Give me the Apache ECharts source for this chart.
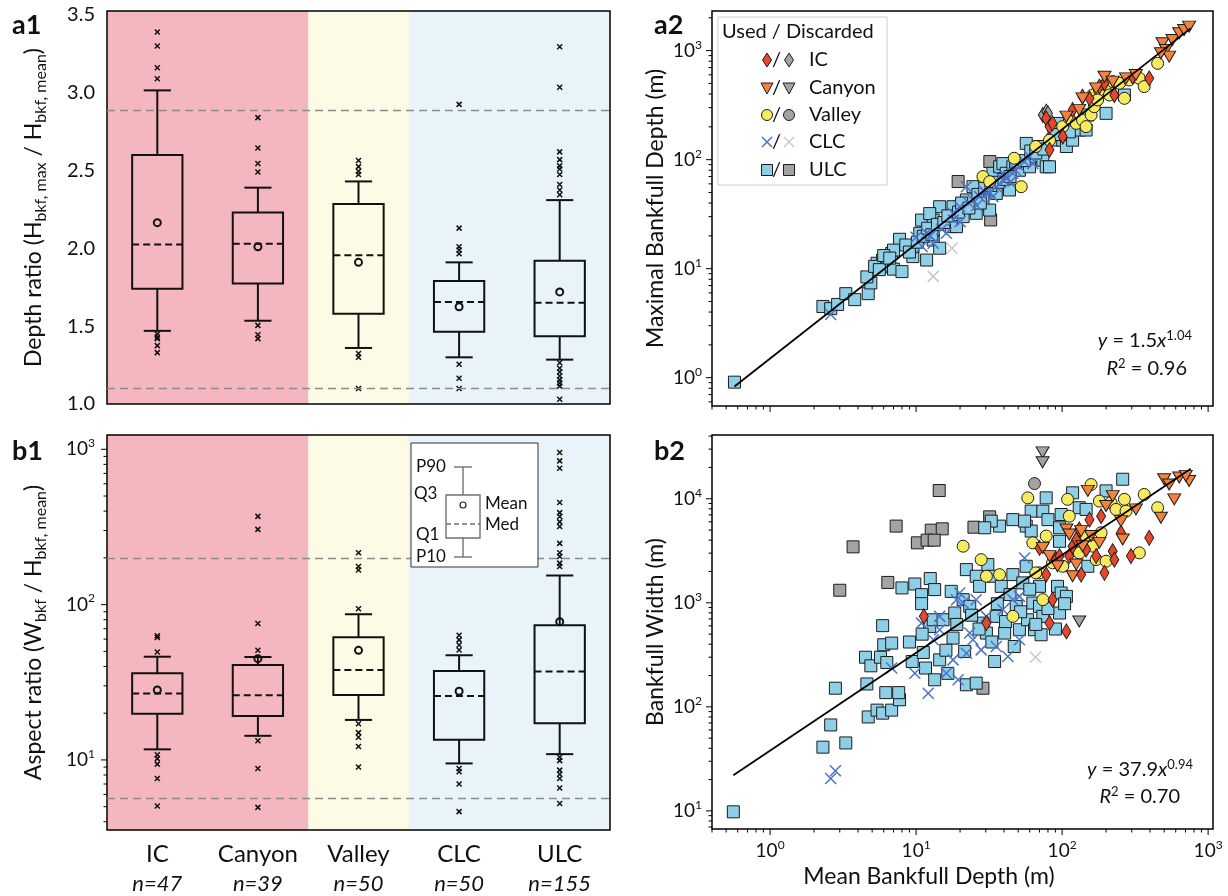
<!DOCTYPE html>
<html>
<head>
<meta charset="utf-8">
<script src="https://cdn.jsdelivr.net/npm/echarts@6/dist/echarts.min.js"></script>
<style>html,body{margin:0;padding:0;background:#fff}#chart{width:1228px;height:896px}</style>
</head>
<body>
<div id="chart"></div>
<script>
// ---- box plots (a1, b1) ----
var categories = ['IC', 'Canyon', 'Valley', 'CLC', 'ULC'];
var counts = [47, 39, 50, 50, 155];

// [P10, Q1, median, Q3, P90, mean]
var depthStats = [
  [1.47, 1.74, 2.025, 2.60, 3.015, 2.165],
  [1.535, 1.775, 2.03, 2.23, 2.39, 2.01],
  [1.36, 1.58, 1.955, 2.285, 2.43, 1.91],
  [1.30, 1.465, 1.655, 1.79, 1.91, 1.625],
  [1.285, 1.435, 1.65, 1.92, 2.31, 1.72]
];
var depthOutliers = [
  [3.39, 3.30, 3.16, 3.09, 1.45, 1.43, 1.42, 1.375, 1.33],
  [2.84, 2.645, 2.545, 2.49, 1.505, 1.445, 1.42],
  [2.565, 2.525, 2.495, 2.475, 1.325, 1.30, 1.10],
  [2.925, 2.13, 2.01, 1.99, 1.965, 1.255, 1.165, 1.10],
  [3.295, 3.035, 2.62, 2.57, 2.53, 2.51, 2.475, 2.41, 2.375, 2.345, 1.265, 1.23, 1.205, 1.18, 1.155, 1.135, 1.115, 1.03]
];
var depthRefs = [2.89, 1.1];

var aspectStats = [
  [11.7, 19.8, 26.8, 36.1, 46.2, 28.2],
  [14.3, 19.2, 26.1, 40.9, 46.0, 44.9],
  [18.1, 26.2, 38.0, 61.7, 86.7, 50.8],
  [9.5, 13.5, 25.8, 37.4, 47.2, 27.7],
  [10.9, 17.2, 37.1, 73.6, 154, 77.7]
];
var aspectOutliers = [
  [63, 61.5, 49.5, 10.8, 10.2, 9.4, 7.6, 5.05],
  [370, 305, 75.5, 50.8, 13.3, 8.8, 4.95],
  [216, 176, 167, 94, 17.1, 15.0, 14.0, 12.2, 9.0],
  [63.5, 59.3, 55, 51, 8.8, 8.4, 7.0, 4.65],
  [953, 842, 755, 454, 391, 369, 341, 318, 248, 216, 204, 185, 176, 10.4, 9.9, 8.6, 8.1, 7.6, 6.6, 5.25]
];
var aspectRefs = [200, 5.7];

// ---- scatter (a2): [mean depth, max depth] ----
var maxULC = [[0.57,0.91],[2.3,4.5],[2.6,4.3],[2.9,4.7],[3.3,5.9],[3.8,5.2],[4.7,5.9],[4.9,7.4],[4.6,8.4],[5.4,11.2],[5.9,12],[6.1,11.2],[6.3,10.4],[6.4,10.8],[7.0,9.9],[8.0,9.4],[7.7,18.6],[6.8,13.8],[7.0,14.8],[9.5,12.9],[10.9,27.9],[11.8,12],[13.1,18.3],[13.1,27.9],[14.5,37],[12.4,32],[13.1,22.6],[14.5,15.4],[9.5,15.9],[10.6,21.1],[17.4,24.3],[17.9,37],[18.9,24.3],[21,30],[22.1,42.7],[24.5,56.5],[25.8,32.2],[28.7,42.7],[30.3,65],[31.9,34.5],[33.6,75],[35.4,49],[37.3,86],[39.3,92],[41.4,75],[43.6,52.7],[46,86],[51,80],[56.8,141],[59.8,86],[63,107],[70,132],[73.8,99],[77.8,86],[82,86],[86,151],[93,215],[101,151],[107,132],[118,151],[131,187],[146,187],[150,257],[200,266],[267,392],
  [5.2,10.5],[5.6,9.8],[6.0,13.2],[6.6,12.5],[8.5,16.5],[9.0,14.2],[10.2,17.5],[11.2,19.8],[12.0,23.5],[12.8,20.5],[14.0,25.5],[15.5,26.5],[16.5,30.5],[19.5,33],[20.5,40],[23,36],[26.5,48],[27.5,40],[29.5,55],[32.5,58],[36.5,62],[40,66],[44,70],[48,95],[55,98],[61,120],[66,115],[75,125],[88,170],[112,180]];
var maxULCDisc = [[19.4,63],[32,96],[32.4,28]];
var maxCLC = [[2.6,3.8],[10,19.4],[11.8,21.1],[13.1,17.1],[16.1,21.1],[17.9,32.2],[19.9,37],[22.1,56.5],[24.5,42.7],[27.2,45.8],[30.3,49],[33.6,45.8],[35.4,56.5],[37.3,70],[41.4,70],[46,75],[51,86],[53.8,99],[59.8,107],[63,92],
  [11,16],[12.5,20],[15,23],[18,28],[20,27],[23,40],[26,38],[29,52],[32,50],[34,60],[40,64],[44,62],[48,80]];
var maxCLCDisc = [[13.1,8.5],[17.6,15.4]];
var maxValley = [[28.7,70],[31.9,62.8],[47,103],[52.5,56.5],[66,132],[82,151],[101,201],[112,239],[125,215],[138,231],[146,201],[158,257],[166,306],[162,392],[180,436],[200,484],[222,520],[247,502],[267,365],[288,538],[338,557],[365,468],[451,765],[175,353],[211,392]];
var maxIC = [[77.8,239],[82,201],[86,215],[82,123],[118,286],[138,378],[154,365],[180,468],[195,502],[228,392],[304,577],[395,557],[101,163]];
var maxICDisc = [[73.8,257],[78,276],[80,266]];
var maxCanyon = [[131,286],[138,365],[171,451],[195,577],[222,520],[274,557],[320,598],[487,1168],[514,1014],[541,881],[570,1253],[634,1443],[685,1548],[741,1660],[475,946],[107,248]];
var fitMax = [[0.57, 0.83], [760, 1600]];

// ---- scatter (b2): [mean depth, bankfull width] ----
var widthULC = [[0.56,9.8],[2.3,41],[2.6,67],[3.3,45],[2.8,151],[4.7,80],[5.4,93],[5.9,87],[6.8,93],[7.7,117],[4.6,166],[6.2,137],[7.6,137],[4.5,300],[4.9,248],[5.7,300],[6.3,267],[6.0,395],[6.8,410],[5.9,603],[8.0,1390],[9.8,1517],[10.9,1197],[10.9,982],[12.5,1710],[13.4,1340],[9.4,273],[11.2,333],[11.6,236],[12.4,593],[13.1,687],[13.4,182],[14.5,283],[15.3,687],[16.5,210],[17.4,1288],[17.9,458],[18.4,798],[21,1072],[21.5,341],[22.1,163],[22.1,2084],[23.3,925],[25.8,169],[25.8,1800],[27.2,1440],[28.7,638],[30.3,512],[31,2330],[33.6,1800],[34.5,273],[35.4,741],[38.3,1440],[40.4,512],[46,1866],[47,380],[48.5,925],[51,551],[53.8,1553],[56.8,2244],[58,687],[63,995],[64.7,551],[70,1440],[71.8,493],[70,925],[73.8,741],[93,1440],[96,798],[98.5,1242],[107,1153],[77.8,10200],[98.5,7060],[96,3900],[118,11400],[131,8200],[146,7900],[150,2244],[200,11900],[260,15400],[61.4,7600],[73.8,7600],[80,6300],[46,6300],[56.8,5460],[61.4,4890],[37.3,5460],[32.7,6100],[29.5,5260],[96,5260],[55.3,6100],
  [9,420],[11,500],[16,350],[19,620],[24,760],[27,560],[33,420],[36,980],[41,660],[44,1200],[52,820],[60,1350],[66,620],[80,880],[90,560],[104,980]];
var widthULCDisc = [[14.4,12000],[7.3,5460],[12.7,4990],[15.1,5140],[10.2,3770],[11.9,4000],[13.3,4000],[3.7,3450],[3.0,1320],[6.4,1570],[24.9,5330],[28.7,151],[31.9,6700]];
var widthCLC = [[2.6,20.5],[2.8,24.3],[6.8,236],[9.8,210],[10.9,638],[12.1,135],[13.1,442],[14.5,551],[16.1,210],[17.9,283],[19.4,182],[18.9,1072],[21,995],[22.1,328],[24.5,442],[25.8,1072],[27.9,353],[30.3,741],[35.4,380],[39.3,859],[42.5,305],[46,1072],[51,1153],[55.3,2700],[51,442],[14.5,741],[19.9,1242],[23.3,512]];
var widthCLCDisc = [[65.7,300]];
var widthValley = [[21,3500],[27.9,2600],[30.3,1800],[37.3,1866],[46,741],[58.2,10200],[63,3770],[70,1940],[73.8,1072],[77.8,4380],[86,2420],[101,2244],[109,9870],[112,6800],[131,3020],[158,13700],[162,3500],[171,2600],[180,9500],[185,4710],[200,2510],[216,9170],[234,7900],[267,9870],[274,7600],[338,3020],[365,11000],[451,8200],[66,1940],[146,4380]];
var widthValleyDisc = [[64.7,14000]];
var widthIC = [[11.3,741],[30.3,638],[70,3370],[77.8,1866],[82,638],[86,1072],[91,2600],[107,531],[112,2810],[118,3500],[125,4060],[131,5070],[135,1866],[146,3250],[154,6300],[171,2810],[185,6800],[195,1940],[222,3130],[228,2600],[253,4710],[296,2810],[395,4210],[96,2810]];
var widthCanyon = [[73.8,3370],[82,2810],[93,2244],[107,5070],[112,4540],[118,1800],[125,2330],[135,4890],[138,3500],[150,11900],[158,4380],[180,3770],[200,8510],[222,10600],[253,6100],[260,4060],[320,7900],[475,6560],[500,15400],[541,13700],[586,9870],[634,16000],[741,14800],[703,16600]];
var widthCanyonDisc = [[73.5,27900],[73.5,22400],[131,662]];
var fitWidth = [[0.56, 22], [760, 19400]];

// ---- styles ----
var FONT = 'Lato';
var bandColor = { IC: '#f5b7bf', Canyon: '#f5b7bf', Valley: '#fdfae6', CLC: '#e8f4fa', ULC: '#e8f4fa' };
var xPath = 'path://M0,0L10,10M10,0L0,10';
var markStyle = {
  IC: { symbol: 'diamond', size: [9, 15], color: '#e8462a' },
  Canyon: { symbol: 'triangle', rotate: 180, size: [13, 11], color: '#f3823c' },
  Valley: { symbol: 'circle', size: 12, color: '#f6eb5e' },
  CLC: { symbol: xPath, size: 11, stroke: '#4a73c6' },
  ULC: { symbol: 'rect', size: 12, color: '#8ecfe8' }
};
var discColor = '#a3a3a3';

function logLabel(v) {
  var l = Math.log10(v), e = Math.round(l);
  if (Math.abs(l - e) > 1e-6) return '';
  return '{b|10}{e|' + e + '}';
}
var logRich = {
  b: { fontFamily: FONT, fontSize: 19, color: '#111', lineHeight: 24 },
  e: { fontFamily: FONT, fontSize: 12, color: '#111', lineHeight: 14, verticalAlign: 'top' }
};

function logTicks(min, max) {
  var out = [];
  for (var e = Math.floor(Math.log10(min)); e <= Math.ceil(Math.log10(max)); e++) {
    for (var m = 1; m <= 9; m++) {
      var v = m * Math.pow(10, e);
      if (v >= min && v <= max) out.push([v, m === 1 ? 1 : 0]);
    }
  }
  return out;
}

function tickSeries(xi, yi, dim, ticks, ref) {
  return {
    type: 'custom', xAxisIndex: xi, yAxisIndex: yi, silent: true, z: 6,
    encode: { x: 0, y: 1 },
    data: ticks.map(function (t) { return dim === 'y' ? [ref, t[0], t[1]] : [t[0], ref, t[1]]; }),
    renderItem: function (params, api) {
      var cs = params.coordSys;
      var len = api.value(2) ? 6 : 3.5;
      var p = api.coord([api.value(0), api.value(1)]);
      var st = { stroke: '#000', lineWidth: 1 };
      if (dim === 'y') return { type: 'line', shape: { x1: cs.x, y1: p[1], x2: cs.x - len, y2: p[1] }, style: st };
      var yb = cs.y + cs.height;
      return { type: 'line', shape: { x1: p[0], y1: yb, x2: p[0], y2: yb + len }, style: st };
    }
  };
}

function bandSeries(xi, yi, ref) {
  return {
    type: 'custom', xAxisIndex: xi, yAxisIndex: yi, silent: true, z: -1,
    encode: { x: 0, y: 1 },
    data: categories.map(function (c, i) { return [i, ref]; }),
    renderItem: function (params, api) {
      var cs = params.coordSys;
      var bw = api.size([1, 0])[0];
      var x = api.coord([api.value(0), api.value(1)])[0];
      return { type: 'rect', shape: { x: x - bw / 2, y: cs.y, width: bw + 0.5, height: cs.height },
        style: { fill: bandColor[categories[api.value(0)]] } };
    }
  };
}

function renderBox(params, api) {
  var c = api.value(0);
  var bw = api.size([1, 0])[0];
  var yv = function (i) { return api.coord([c, api.value(i)]); };
  var x = yv(3)[0];
  var p10 = yv(1)[1], q1 = yv(2)[1], med = yv(3)[1], q3 = yv(4)[1], p90 = yv(5)[1], mean = yv(6)[1];
  var hb = bw * 0.25, hc = bw * 0.135;
  var ls = { stroke: '#111', lineWidth: 2 };
  return { type: 'group', children: [
    { type: 'line', shape: { x1: x, y1: p10, x2: x, y2: q1 }, style: ls },
    { type: 'line', shape: { x1: x, y1: q3, x2: x, y2: p90 }, style: ls },
    { type: 'line', shape: { x1: x - hc, y1: p10, x2: x + hc, y2: p10 }, style: ls },
    { type: 'line', shape: { x1: x - hc, y1: p90, x2: x + hc, y2: p90 }, style: ls },
    { type: 'rect', shape: { x: x - hb, y: q3, width: 2 * hb, height: q1 - q3 }, style: { stroke: '#111', lineWidth: 2, fill: 'none' } },
    { type: 'line', shape: { x1: x - hb, y1: med, x2: x + hb, y2: med }, style: { stroke: '#111', lineWidth: 2, lineDash: [7, 4] } },
    { type: 'circle', shape: { cx: x, cy: mean, r: 3.5 }, style: { stroke: '#111', lineWidth: 2, fill: 'none' } }
  ] };
}

function boxSeries(xi, yi, stats, refs) {
  return {
    type: 'custom', xAxisIndex: xi, yAxisIndex: yi, silent: true, z: 3,
    encode: { x: 0, y: [1, 2, 3, 4, 5, 6] },
    data: stats.map(function (s, i) { return [i].concat(s); }),
    renderItem: renderBox,
    markLine: {
      silent: true, symbol: 'none', label: { show: false }, animation: false,
      lineStyle: { color: '#8c8c8c', type: [8, 5], width: 1.4 },
      data: refs.map(function (r) { return { yAxis: r }; })
    }
  };
}

function outlierSeries(xi, yi, outs) {
  var d = [];
  outs.forEach(function (arr, i) { arr.forEach(function (v) { d.push([i, v]); }); });
  return {
    type: 'scatter', xAxisIndex: xi, yAxisIndex: yi, silent: true, z: 4,
    symbol: xPath, symbolSize: 5, data: d,
    itemStyle: { color: 'rgba(0,0,0,0)', borderColor: '#111', borderWidth: 1.5, opacity: 1 }
  };
}

function scatterSeries(xi, yi, data, kind, disc) {
  var s = markStyle[kind];
  var item;
  if (s.stroke) {
    item = { color: 'rgba(0,0,0,0)', borderColor: disc ? '#c8c8c8' : s.stroke, borderWidth: 1.5, opacity: 1 };
  } else {
    item = { color: disc ? discColor : s.color, borderColor: '#1c1c1c', borderWidth: 1, opacity: 1 };
  }
  return {
    type: 'scatter', xAxisIndex: xi, yAxisIndex: yi, silent: true, z: 3,
    symbol: s.symbol, symbolSize: s.size, symbolRotate: s.rotate || 0,
    data: data, itemStyle: item
  };
}

function fitSeries(xi, yi, data) {
  return {
    type: 'line', xAxisIndex: xi, yAxisIndex: yi, silent: true, z: 5,
    data: data, symbol: 'none', lineStyle: { color: '#000', width: 1.8 }
  };
}

var xMin = 0.4, xMax = 1080;
var aMin = 0.55, aMax = 2310;
var bMin = 6.7, bMax = 41000;
var rMin = 3.54, rMax = 1236;

var nameRich = {
  n: { fontFamily: FONT, fontSize: 23, color: '#111', lineHeight: 30 },
  s: { fontFamily: FONT, fontSize: 16, color: '#111', lineHeight: 14, verticalAlign: 'bottom' }
};

var chart = echarts.init(document.getElementById('chart'), null, { renderer: 'canvas' });

var gridBase = { show: true, borderColor: '#000', borderWidth: 1.5, backgroundColor: 'transparent', containLabel: false };

function txt(x, y, text, size, extra) {
  var st = { text: text, x: x, y: y, fill: '#111', fontFamily: FONT, fontSize: size,
    textAlign: 'left', textVerticalAlign: 'middle', align: 'left', verticalAlign: 'middle' };
  for (var k in extra) st[k] = extra[k];
  return { type: 'text', z: 20, style: st };
}

function legendMarker(kind, disc, x, y) {
  var s = markStyle[kind];
  var fill = disc ? discColor : s.color;
  var st = { fill: fill, stroke: '#1c1c1c', lineWidth: 1 };
  if (kind === 'IC') return { type: 'polygon', z: 20, shape: { points: [[x, y - 7], [x + 4.5, y], [x, y + 7], [x - 4.5, y]] }, style: st };
  if (kind === 'Canyon') return { type: 'polygon', z: 20, shape: { points: [[x - 6, y - 5], [x + 6, y - 5], [x, y + 6]] }, style: st };
  if (kind === 'Valley') return { type: 'circle', z: 20, shape: { cx: x, cy: y, r: 5.5 }, style: st };
  if (kind === 'ULC') return { type: 'rect', z: 20, shape: { x: x - 5.5, y: y - 5.5, width: 11, height: 11 }, style: st };
  var xs = { stroke: disc ? '#c8c8c8' : s.stroke, lineWidth: 1.5 };
  return { type: 'polyline', z: 20, shape: { points: [[x - 5, y - 5], [x + 5, y + 5], [x, y], [x - 5, y + 5], [x + 5, y - 5]] }, style: xs };
}

function buildGraphics() {
  var g = [];
  var bold = { fontWeight: 'bold', fontSize: 27 };
  g.push(txt(12, 25, 'a1', 27, bold));
  g.push(txt(12, 451, 'b1', 27, bold));
  g.push(txt(654, 25, 'a2', 27, bold));
  g.push(txt(654, 451, 'b2', 27, bold));

  // a2 legend
  g.push({ type: 'rect', z: 19, shape: { x: 718, y: 17, width: 169, height: 168 }, style: { fill: 'rgba(255,255,255,0.9)', stroke: '#cccccc', lineWidth: 1 } });
  g.push(txt(722, 32, 'Used / Discarded', 20));
  var rowsY = [60, 88, 115, 142, 170];
  categories.forEach(function (c, i) {
    g.push(legendMarker(c, false, 767, rowsY[i]));
    g.push(txt(772, rowsY[i], '/', 20));
    g.push(legendMarker(c, true, 789, rowsY[i]));
    g.push(txt(809, rowsY[i], c, 20));
  });

  // b1 box legend
  var gc = '#707070';
  var gl = { stroke: gc, lineWidth: 1.4 };
  g.push({ type: 'rect', z: 19, shape: { x: 411, y: 443, width: 127, height: 124 }, style: { fill: '#fff', stroke: '#333', lineWidth: 1 } });
  g.push({ type: 'line', z: 20, shape: { x1: 463, y1: 467, x2: 463, y2: 495 }, style: gl });
  g.push({ type: 'line', z: 20, shape: { x1: 463, y1: 538, x2: 463, y2: 557 }, style: gl });
  g.push({ type: 'line', z: 20, shape: { x1: 454, y1: 467, x2: 472, y2: 467 }, style: gl });
  g.push({ type: 'line', z: 20, shape: { x1: 454, y1: 557, x2: 472, y2: 557 }, style: gl });
  g.push({ type: 'rect', z: 20, shape: { x: 446, y: 495, width: 34, height: 43 }, style: { stroke: gc, lineWidth: 1.4, fill: 'none' } });
  g.push({ type: 'line', z: 20, shape: { x1: 446, y1: 524, x2: 480, y2: 524 }, style: { stroke: gc, lineWidth: 1.4, lineDash: [5, 3] } });
  g.push({ type: 'circle', z: 20, shape: { cx: 463, cy: 505, r: 3 }, style: { stroke: '#222', lineWidth: 1.2, fill: 'none' } });
  g.push(txt(416, 467, 'P90', 17));
  g.push(txt(414, 494, 'Q3', 17));
  g.push(txt(416, 535, 'Q1', 17));
  g.push(txt(416, 557, 'P10', 17));
  g.push(txt(485, 504, 'Mean', 17));
  g.push(txt(485, 525, 'Med', 17));

  // fit annotations
  var fr = {
    i: { fontFamily: FONT, fontSize: 20, fontStyle: 'italic', fill: '#111', lineHeight: 24 },
    n: { fontFamily: FONT, fontSize: 20, fill: '#111', lineHeight: 24 },
    s: { fontFamily: FONT, fontSize: 13, fill: '#111', lineHeight: 13, verticalAlign: 'top' }
  };
  var ra = { textAlign: 'right', align: 'right', rich: fr };
  g.push(txt(1192, 341, '{i|y}{n| = 1.5}{i|x}{s|1.04}', 20, ra));
  g.push(txt(1187, 369, '{i|R}{s|2}{n| = 0.96}', 20, ra));
  g.push(txt(1193, 770, '{i|y}{n| = 37.9}{i|x}{s|0.94}', 20, ra));
  g.push(txt(1180, 797, '{i|R}{s|2}{n| = 0.70}', 20, ra));

  // b2 x-axis title
  g.push(txt(929, 877, 'Mean Bankfull Depth (m)', 23, { textAlign: 'center', align: 'center' }));
  return g;
}

var option = {
  animation: false,
  textStyle: { fontFamily: FONT },
  grid: [
    Object.assign({ left: 107, top: 11, width: 503, height: 393 }, gridBase),
    Object.assign({ left: 107, top: 435, width: 503, height: 395 }, gridBase),
    Object.assign({ left: 712, top: 11, width: 501, height: 395 }, gridBase),
    Object.assign({ left: 712, top: 435, width: 501, height: 394 }, gridBase)
  ],
  xAxis: [
    { type: 'category', gridIndex: 0, data: categories, boundaryGap: true, axisLine: { show: false },
      axisTick: { alignWithLabel: true, length: 6, interval: 0, lineStyle: { color: '#000', width: 1.2 } },
      axisLabel: { show: false }, splitLine: { show: false } },
    { type: 'category', gridIndex: 1, data: categories, boundaryGap: true, axisLine: { show: false },
      axisTick: { alignWithLabel: true, length: 6, interval: 0, lineStyle: { color: '#000', width: 1.2 } },
      axisLabel: { interval: 0, margin: 9, formatter: function (v, i) { return '{c|' + v + '}\n{n|n=' + counts[i] + '}'; },
        rich: { c: { fontFamily: FONT, fontSize: 24, color: '#111', lineHeight: 30 },
                n: { fontFamily: FONT, fontSize: 22, fontStyle: 'italic', color: '#111', lineHeight: 30 } } },
      splitLine: { show: false } },
    { type: 'log', logBase: 10, gridIndex: 2, min: xMin, max: xMax, axisLine: { show: false }, axisTick: { show: false },
      axisLabel: { show: false }, splitLine: { show: false } },
    { type: 'log', logBase: 10, gridIndex: 3, min: xMin, max: xMax, axisLine: { show: false }, axisTick: { show: false },
      axisLabel: { margin: 10, showMinLabel: false, showMaxLabel: false, formatter: logLabel, rich: logRich },
      splitLine: { show: false } }
  ],
  yAxis: [
    { type: 'value', gridIndex: 0, min: 1, max: 3.525, interval: 0.5, axisLine: { show: false },
      axisTick: { length: 6, lineStyle: { color: '#000', width: 1.2 } },
      axisLabel: { showMaxLabel: false, margin: 12, fontFamily: FONT, fontSize: 20, color: '#111',
        formatter: function (v) { return Math.abs(v * 2 - Math.round(v * 2)) < 1e-6 ? v.toFixed(1) : ''; } },
      splitLine: { show: false },
      name: '{n|Depth ratio (H}{s|bkf, max}{n| / H}{s|bkf, mean}{n|)}', nameLocation: 'middle', nameGap: 58,
      nameTextStyle: { rich: nameRich } },
    { type: 'log', logBase: 10, gridIndex: 1, min: rMin, max: rMax, axisLine: { show: false }, axisTick: { show: false },
      axisLabel: { margin: 12, showMinLabel: false, showMaxLabel: false, formatter: logLabel, rich: logRich },
      splitLine: { show: false },
      name: '{n|Aspect ratio (W}{s|bkf}{n| / H}{s|bkf, mean}{n|)}', nameLocation: 'middle', nameGap: 58,
      nameTextStyle: { rich: nameRich } },
    { type: 'log', logBase: 10, gridIndex: 2, min: aMin, max: aMax, axisLine: { show: false }, axisTick: { show: false },
      axisLabel: { margin: 10, showMinLabel: false, showMaxLabel: false, formatter: logLabel, rich: logRich },
      splitLine: { show: false },
      name: 'Maximal Bankfull Depth (m)', nameLocation: 'middle', nameGap: 45,
      nameTextStyle: { fontFamily: FONT, fontSize: 23, color: '#111' } },
    { type: 'log', logBase: 10, gridIndex: 3, min: bMin, max: bMax, axisLine: { show: false }, axisTick: { show: false },
      axisLabel: { margin: 10, showMinLabel: false, showMaxLabel: false, formatter: logLabel, rich: logRich },
      splitLine: { show: false },
      name: 'Bankfull Width (m)', nameLocation: 'middle', nameGap: 45,
      nameTextStyle: { fontFamily: FONT, fontSize: 23, color: '#111' } }
  ],
  series: [
    bandSeries(0, 0, 2),
    bandSeries(1, 1, 10),
    boxSeries(0, 0, depthStats, depthRefs),
    boxSeries(1, 1, aspectStats, aspectRefs),
    outlierSeries(0, 0, depthOutliers),
    outlierSeries(1, 1, aspectOutliers),
    tickSeries(1, 1, 'y', logTicks(rMin, rMax), 0),

    scatterSeries(2, 2, maxULCDisc, 'ULC', true),
    scatterSeries(2, 2, maxICDisc, 'IC', true),
    scatterSeries(2, 2, maxCLCDisc, 'CLC', true),
    scatterSeries(2, 2, maxULC, 'ULC', false),
    scatterSeries(2, 2, maxCLC, 'CLC', false),
    scatterSeries(2, 2, maxValley, 'Valley', false),
    scatterSeries(2, 2, maxIC, 'IC', false),
    scatterSeries(2, 2, maxCanyon, 'Canyon', false),
    fitSeries(2, 2, fitMax),
    tickSeries(2, 2, 'y', logTicks(aMin, aMax), xMin),
    tickSeries(2, 2, 'x', logTicks(xMin, xMax), aMin),

    scatterSeries(3, 3, widthULCDisc, 'ULC', true),
    scatterSeries(3, 3, widthValleyDisc, 'Valley', true),
    scatterSeries(3, 3, widthCanyonDisc, 'Canyon', true),
    scatterSeries(3, 3, widthCLCDisc, 'CLC', true),
    scatterSeries(3, 3, widthULC, 'ULC', false),
    scatterSeries(3, 3, widthCLC, 'CLC', false),
    scatterSeries(3, 3, widthValley, 'Valley', false),
    scatterSeries(3, 3, widthIC, 'IC', false),
    scatterSeries(3, 3, widthCanyon, 'Canyon', false),
    fitSeries(3, 3, fitWidth),
    tickSeries(3, 3, 'y', logTicks(bMin, bMax), xMin),
    tickSeries(3, 3, 'x', logTicks(xMin, xMax), bMin)
  ],
  graphic: buildGraphics()
};

chart.setOption(option);
</script>
</body>
</html>
